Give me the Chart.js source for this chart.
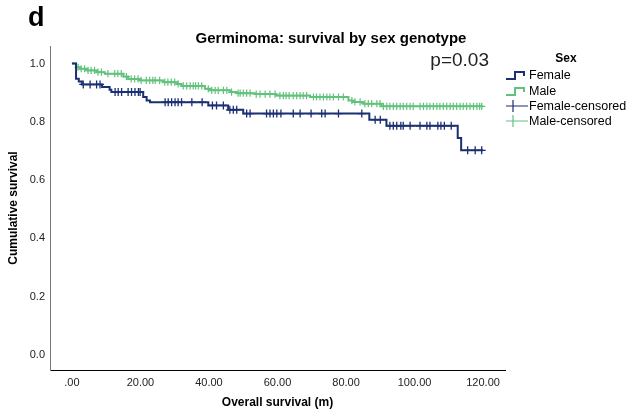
<!DOCTYPE html>
<html lang="en">
<head>
    <title>Germinoma: survival by sex genotype</title>
    <script src="https://cdn.jsdelivr.net/npm/chart.js@4"></script>
    <style>
        body { margin: 0; background: #fff; }
        #wrap { position: relative; width: 637px; height: 416px; font-family: "Liberation Sans", Arial, sans-serif; color: #000; }
        .txt { position: absolute; white-space: nowrap; line-height: 1; }
        .leg { position: absolute; left: 529px; font-size: 12.5px; line-height: 1; white-space: nowrap; }
        .ico { position: absolute; left: 505px; }
    </style>
</head>
<body>
<div id="wrap">
    <canvas id="myChart" width="637" height="416"></canvas>
    <div class="txt" style="left:28px; top:4px; font-size:27px; font-weight:bold;">d</div>
    <div class="txt" style="left:331px; top:30px; font-size:15px; font-weight:bold; transform:translateX(-50%);">Germinoma: survival by sex genotype</div>
    <div class="txt" style="right:148px; top:50px; font-size:19px; color:#222;">p=0.03</div>
    <div class="txt" style="left:566px; top:52px; font-size:12px; font-weight:bold; transform:translateX(-50%);">Sex</div>

    <svg class="ico" style="top:68px" width="24" height="14"><path d="M1 11 H10 V4 H19 V8" fill="none" stroke="#1b2f72" stroke-width="2"/></svg>
    <div class="leg" style="top:69px">Female</div>
    <svg class="ico" style="top:84px" width="24" height="14"><path d="M1 11 H10 V4 H19 V8" fill="none" stroke="#62c27d" stroke-width="2"/></svg>
    <div class="leg" style="top:85px">Male</div>
    <svg class="ico" style="top:99px" width="24" height="14"><path d="M1 7 H23 M8 1 V13" fill="none" stroke="#1b2f72" stroke-width="1.2"/></svg>
    <div class="leg" style="top:100px">Female-censored</div>
    <svg class="ico" style="top:114px" width="24" height="14"><path d="M1 7 H23 M8 1 V13" fill="none" stroke="#62c27d" stroke-width="1.2"/></svg>
    <div class="leg" style="top:115px">Male-censored</div>
</div>

<script>
    // Kaplan-Meier steps (months, survival after the step)
    var femaleTimes = [0, 1.2, 2.0, 2.9, 8.8, 11.0, 11.5, 20.8, 21.8, 22.8, 39.8, 45.6, 50.0, 86.8, 91.8, 112.6, 113.6, 120];
    var femaleSurv = [1, .948, .938, .928, .919, .910, .902, .885, .873, .867, .856, .841, .828, .807, .786, .744, .702, .702];

    var maleTimes = [0, 1.2, 2.3, 4.3, 7.2, 9.6, 15.0, 16.4, 19.9, 26.7, 30.6, 32.0, 38.8, 40.3, 46.1, 48.1, 53.4, 59.5, 69.5, 80.7, 82.0, 85.0, 90.4, 120];
    var maleSurv = [1, .987, .982, .976, .970, .965, .955, .947, .942, .936, .930, .923, .913, .908, .902, .898, .895, .890, .885, .873, .868, .862, .853, .853];

    // censored cases (months)
    var femaleCensored = [3.3, 5.3, 7.2, 8.2, 12.6, 13.5, 14.5, 16.4, 17.4, 18.4, 19.4, 19.9, 27.2, 28.1, 29.1, 30.1, 31, 32, 35, 38, 41, 42.2, 44.2,
        46.1, 47.1, 48.1, 51, 52, 56.8, 57.8, 58.8, 59.8, 61, 64.6, 66.6, 69.8, 72.9, 73.9, 77.8, 84.6, 88.5, 90, 92.8, 93.8, 94.8, 96,
        96.7, 98.7, 101.6, 103.6, 104.5, 106.8, 107.7, 108.7, 110.7, 115.5, 117.7, 119.6];
    var maleCensored = [1.8, 2.7, 3.7, 4.7, 5.6, 6.6, 7.6, 8.6, 10.5, 12.5, 13.4, 14.4, 15.9, 17.3, 18.3, 19.3, 20.2, 21.7, 22.7, 23.6, 24.3,
        25.6, 27.1, 28, 29, 30, 31, 32.5, 33.5, 34.5, 35.4, 36.1, 36.9, 37.9, 39.8, 40.8, 41.8, 42.7, 44.2, 45.2, 46.6, 48.5, 49.1, 50, 51,
        52, 53.8, 54.9, 56.4, 57.8, 59.3, 60.7, 61.7, 62.5, 63.4, 64.6, 65.6, 66.6, 67.5, 68.5, 70.5, 71.4, 72.4, 73.4, 74.4, 75.3, 76.3,
        77.8, 79.2, 81.7, 82.6, 84.1, 85.5, 86.5, 87.5, 89, 89.9, 90.9, 91.9, 92.8, 93.8, 94.8, 95.8, 96.7, 97.7, 98.7, 99.6, 101.6, 102.6,
        103.6, 104.5, 105.5, 106.5, 107.4, 108.4, 109.4, 110.4, 111.3, 112.3, 113.3, 114.2, 115.2, 116.2, 117.2, 118.2, 119, 119.6];

    var xTicks = [0, 20, 40, 60, 80, 100, 120];
    var xTickLabels = ['.00', '20.00', '40.00', '60.00', '80.00', '100.00', '120.00'];
    var yTicks = [0, 0.2, 0.4, 0.6, 0.8, 1.0];
    var yTickLabels = ['0.0', '0.2', '0.4', '0.6', '0.8', '1.0'];

    var navy = '#1b2f72';
    var green = '#62c27d';

    function steps(times, surv) {
        return times.map((t, i) => ({x: t, y: surv[i]}));
    }

    // survival level at a censoring time = last step at or before it
    function censorPoints(cens, times, surv) {
        return cens.map(t => {
            var s = surv[0];
            for (var i = 0; i < times.length; i++) {
                if (times[i] <= t) s = surv[i];
            }
            return {x: t, y: s};
        });
    }

    var font = {family: '"Liberation Sans", Arial, sans-serif'};

    new Chart("myChart", {
        type: "line",
        data: {
            datasets: [
                {
                    data: steps(femaleTimes, femaleSurv),
                    borderColor: navy,
                    borderWidth: 2,
                    stepped: 'before',
                    pointRadius: 0,
                    fill: false,
                    label: "Female"
                },
                {
                    data: steps(maleTimes, maleSurv),
                    borderColor: green,
                    borderWidth: 2,
                    stepped: 'before',
                    pointRadius: 0,
                    fill: false,
                    label: "Male"
                },
                {
                    type: 'scatter',
                    data: censorPoints(femaleCensored, femaleTimes, femaleSurv),
                    pointStyle: 'cross',
                    pointRadius: 4,
                    pointBorderWidth: 1.3,
                    borderColor: navy,
                    label: "Female-censored"
                },
                {
                    type: 'scatter',
                    data: censorPoints(maleCensored, maleTimes, maleSurv),
                    pointStyle: 'cross',
                    pointRadius: 3.6,
                    pointBorderWidth: 1.2,
                    borderColor: green,
                    label: "Male-censored"
                }
            ]
        },
        options: {
            responsive: false,
            animation: false,
            devicePixelRatio: 1,
            layout: {padding: {left: 0, top: 46, right: 132, bottom: 0}},
            plugins: {
                legend: {display: false},
                tooltip: {enabled: false}
            },
            scales: {
                x: {
                    type: "linear",
                    min: -6.4,
                    max: 126.4,
                    afterFit: s => { s.height = 46; },
                    afterBuildTicks: s => { s.ticks = xTicks.map(v => ({value: v})); },
                    grid: {display: false, drawTicks: false},
                    border: {display: true, color: '#000', width: 1},
                    ticks: {
                        padding: 6,
                        color: '#222',
                        font: Object.assign({size: 11}, font),
                        callback: (v) => xTickLabels[xTicks.indexOf(v)],
                        maxRotation: 0
                    },
                    title: {
                        display: true,
                        text: 'Overall survival (m)',
                        color: '#000',
                        font: Object.assign({size: 12, weight: 'bold'}, font),
                        padding: {top: 0, bottom: 6}
                    }
                },
                y: {
                    min: -0.052,
                    max: 1.06,
                    afterFit: s => { s.width = 50; },
                    afterBuildTicks: s => { s.ticks = yTicks.map(v => ({value: v})); },
                    grid: {display: false, drawTicks: false},
                    border: {display: true, color: '#777', width: 1},
                    ticks: {
                        padding: 5,
                        color: '#222',
                        font: Object.assign({size: 11}, font),
                        callback: (v) => yTickLabels[yTicks.indexOf(v)]
                    },
                    title: {
                        display: true,
                        text: 'Cumulative survival',
                        color: '#000',
                        font: Object.assign({size: 12, weight: 'bold'}, font),
                        padding: {top: 6, bottom: 0}
                    }
                }
            }
        }
    });
</script>
</body>
</html>
